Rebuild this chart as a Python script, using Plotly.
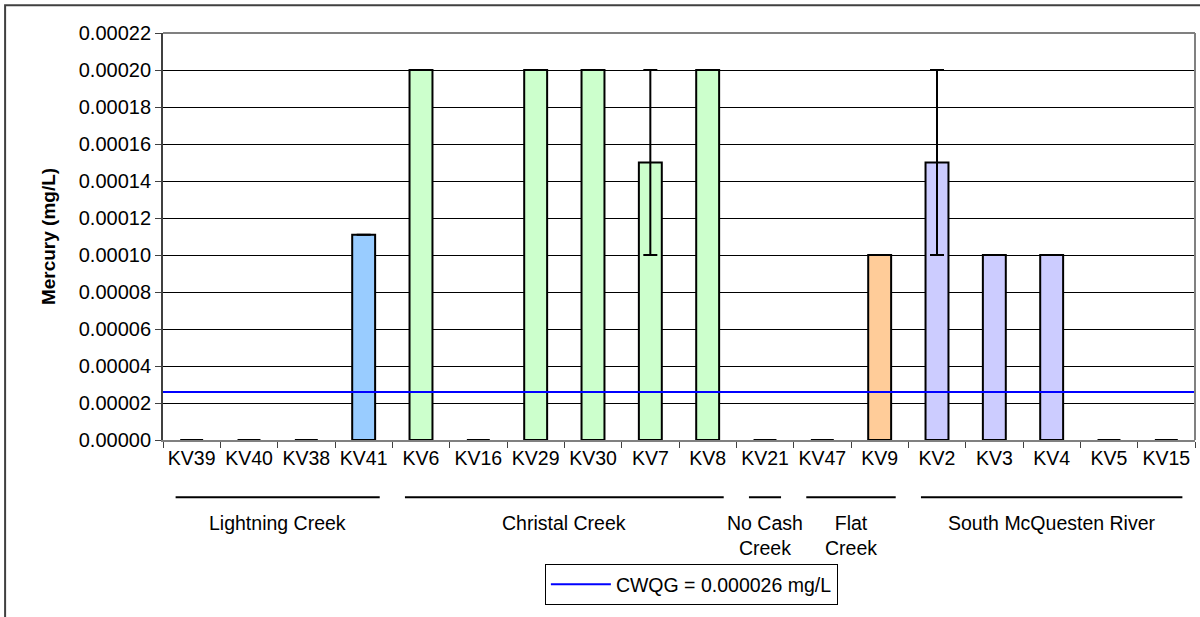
import plotly.graph_objects as go

sites = ["KV39", "KV40", "KV38", "KV41", "KV6", "KV16", "KV29", "KV30", "KV7", "KV8",
         "KV21", "KV47", "KV9", "KV2", "KV3", "KV4", "KV5", "KV15"]
mercury = [0, 0, 0, 0.000111, 0.0002, 0, 0.0002, 0.0002, 0.00015, 0.0002,
           0, 0, 0.0001, 0.00015, 0.0001, 0.0001, 0, 0]
err = [0, 0, 0, 0, 0, 0, 0, 0, 0.00005, 0, 0, 0, 0, 0.00005, 0, 0, 0, 0]
site_group = ["Lightning Creek"] * 4 + ["Christal Creek"] * 6 + ["No Cash Creek"] + \
             ["Flat Creek"] * 2 + ["South McQuesten River"] * 5
group_names = ["Lightning Creek", "Christal Creek", "No Cash Creek", "Flat Creek", "South McQuesten River"]
group_labels = ["Lightning Creek", "Christal Creek", "No Cash<br>Creek", "Flat<br>Creek", "South McQuesten River"]
group_colors = {"Lightning Creek": "#99CCFF", "Christal Creek": "#CCFFCC", "No Cash Creek": "#CCFFCC",
                "Flat Creek": "#FFCC99", "South McQuesten River": "#CCCCFF"}
cwqg = 0.000026
cwqg_label = "CWQG = 0.000026 mg/L"

FONT = "Liberation Sans, Arial, sans-serif"

fig = go.Figure()
fig.add_trace(go.Bar(
    x=sites, y=mercury,
    marker=dict(color=[group_colors[g] for g in site_group], line=dict(color="black", width=2)),
    error_y=dict(type="data", array=err, visible=True, color="black", thickness=2, width=7),
    showlegend=False, width=0.4,
))

fig.add_shape(type="line", xref="paper", yref="y", x0=0, x1=1, y0=cwqg, y1=cwqg,
              line=dict(color="#0000FF", width=2), showlegend=True, name=cwqg_label, layer="above")

# group lines and labels
for gname, glabel in zip(group_names, group_labels):
    idx = [i for i, g in enumerate(site_group) if g == gname]
    a, b = min(idx), max(idx)
    fig.add_shape(type="line", xref="x", yref="paper", x0=a - 0.5 + 0.22, x1=b + 0.5 - 0.22,
                  y0=-0.1405, y1=-0.1405, line=dict(color="black", width=2))
    fig.add_annotation(x=(a + b) / 2, xref="x", y=-0.172, yref="paper", yanchor="top",
                       text=glabel, showarrow=False,
                       font=dict(family=FONT, size=19.5, color="black"))

fig.update_layout(
    width=1200, height=617,
    margin=dict(l=163, r=5, t=33, b=177),
    paper_bgcolor="white", plot_bgcolor="white",
    font=dict(family=FONT, size=19.5, color="black"),
    bargap=0.6,
    xaxis=dict(type="category", range=[-0.5, 17.5], ticks="outside", tickson="boundaries",
               ticklen=6, tickcolor="#404040", showline=True, linecolor="#808080", linewidth=2,
               mirror=False, showgrid=False, tickfont=dict(size=19.5)),
    yaxis=dict(range=[0, 0.00022], dtick=0.00002, tickformat=".5f", ticks="outside",
               ticklen=6, tickcolor="#404040", showline=True, linecolor="#404040", linewidth=2,
               showgrid=True, gridcolor="black", gridwidth=1, zeroline=False,
               title=dict(text="<b>Mercury (mg/L)</b>", font=dict(size=19), standoff=18),
               tickfont=dict(size=20)),
    legend=dict(orientation="h", x=0.512, xanchor="center", y=-0.305, yanchor="top",
                bordercolor="black", borderwidth=1, bgcolor="white", itemwidth=60,
                font=dict(family=FONT, size=19.5)),
    shapes=list(fig.layout.shapes) + [
        dict(type="line", xref="paper", yref="paper", x0=0, x1=1, y0=1, y1=1,
             line=dict(color="#808080", width=2)),
        dict(type="line", xref="paper", yref="paper", x0=1, x1=1, y0=0, y1=1,
             line=dict(color="#808080", width=2)),
        dict(type="rect", xref="paper", yref="paper", x0=-0.153, x1=1.2, y0=-0.44, y1=1.068,
             line=dict(color="#404040", width=2), layer="below"),
    ],
)

fig.write_html("out.html", config={"displayModeBar": False},
               post_script="document.body.style.margin='0';document.body.style.overflow='hidden';")
